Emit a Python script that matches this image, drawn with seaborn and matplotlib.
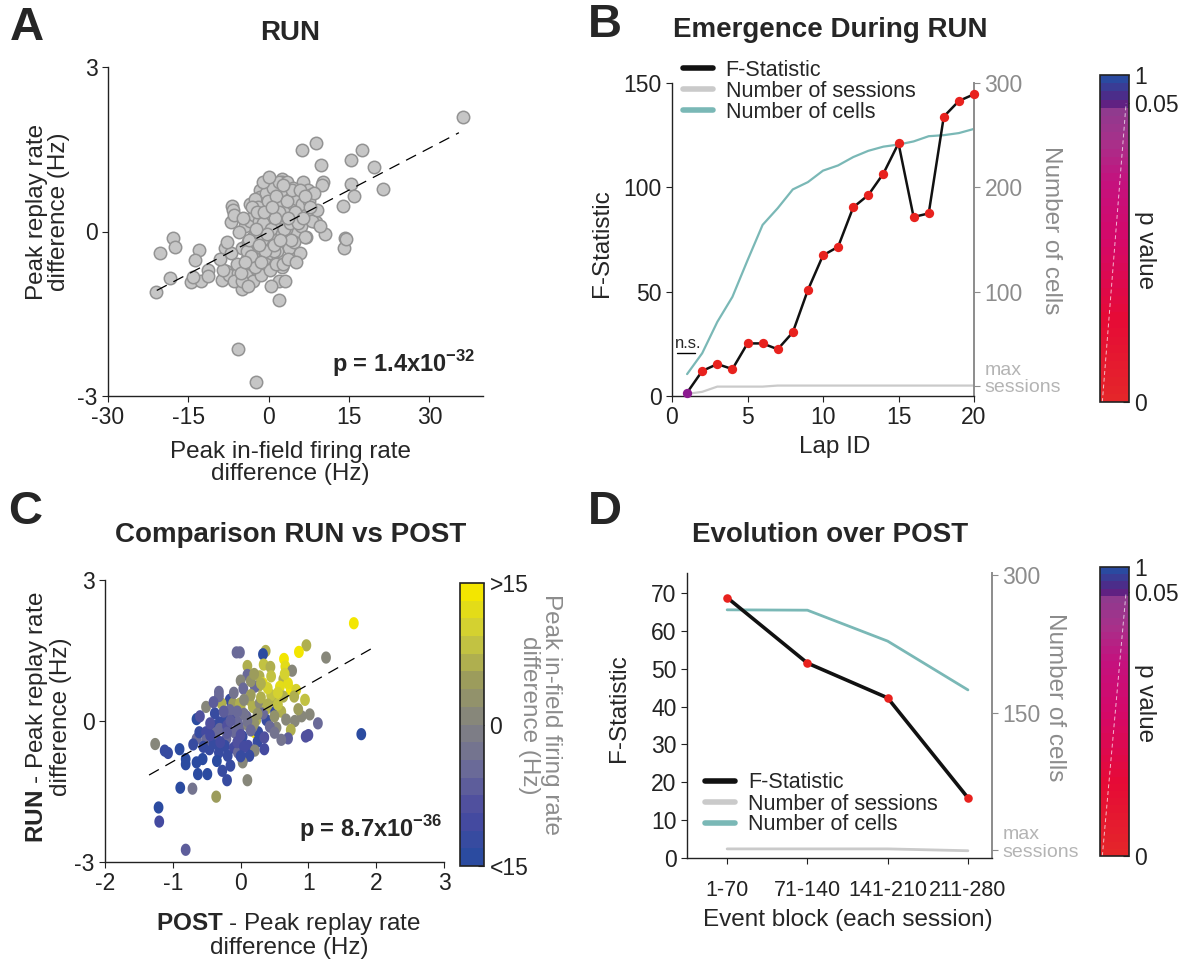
# Figura de 4 paneles: replay vs firing rate (A, C) y evolución del F-Statistic (B, D)
# =============================================================

import numpy as np
import matplotlib
matplotlib.use("Agg")
import matplotlib.pyplot as plt
from matplotlib.colors import LinearSegmentedColormap, Normalize
from matplotlib.cm import ScalarMappable
from matplotlib.lines import Line2D
from matplotlib.path import Path
from matplotlib.markers import MarkerStyle
import seaborn as sns

# -------------------------------------------------------------
# DATOS
# -------------------------------------------------------------

# Panel A: diferencia de firing rate (Hz) vs diferencia de replay rate (Hz)
x_a = [36.2, 8.9, 6.2, 17.5, 15.3, 9.7, 19.7, 21.3, 15.3, 15.9, 13.8, 10.5, 14.3, 14.0,
       14.5, 10.1, 10.0, 6.4, 2.4, 2.5, -1.7, -1.7, 0.6, -6.8, -6.7, -7.0, -17.8, -17.4,
       -20.3, -13.0, -13.7, -18.4, -21.1, -14.5, -12.7, -11.4, -11.3, -14.1, -8.8, -7.9,
       -7.4, -8.2, -4.9, -5.7, -0.75, 2.4, 1.9, 1.9, 4.5, 7.0, 8.9, 7.3, 7.7, -5.7, -2.3,
       -5.0, -4.5, -4.0, -3.8, -3.5, -3.2, -3.0, -2.8, -2.5, -2.2, -2.0, -1.8, -1.5, -1.2,
       -1.0, -0.8, -0.5, -0.3, 0.0, 0.2, 0.5, 0.7, 1.0, 1.2, 1.5, 1.8, 2.0, 2.3, 2.5, 2.8,
       3.0, 3.2, 3.5, 3.8, 4.0, 4.3, 4.6, 5.0, 5.3, 5.6, 6.0, 6.3, 6.7, 7.0, 7.5, 8.0,
       -6.0, -5.5, -6.5, -4.2, -2.9, -1.5, 0.3, 1.4, 2.7, 3.6, -0.5, 0.8, 2.0, 3.5, 4.5,
       -3.5, -2.5, -7.0, -7.8, -5.0, -3.8, 0.5, 1.5, 4.8, 5.8, 3.0, -1.0, 0.0, -6.5, 9.0,
       8.5, 9.5, -8.5, -9.0, 1.0, -1.3, 3.3, 5.5, -2.0, 0.9,
       -4.8, -4.1, -3.6, -3.1, -2.6, -2.1, -1.6, -1.1, -0.6, -0.1, 0.4, 0.9, 1.4, 1.9,
       2.4, 2.9, 3.4, 3.9, 4.4, 4.9, 5.4, 5.9, 6.4, -3.3, -1.9, -0.4, 1.1, 2.6, 4.1, 5.1,
       -2.4, -0.9, 0.6, 2.1, 3.6, -5.2, -4.4, 6.8, 7.8, -1.4]
y_a = [2.09, 1.61, 1.49, 1.48, 1.30, 1.22, 1.17, 0.77, 0.87, 0.64, 0.46, -0.04, -0.12, -0.31,
       -0.13, 0.90, 0.85, 0.90, 0.96, 0.90, 0.75, 0.63, 0.72, 0.46, 0.40, 0.18, -0.12, -0.29,
       -0.40, -0.33, -0.52, -0.85, -1.11, -0.92, -0.91, -0.70, -0.82, -0.83, -0.89, -0.72,
       -0.80, -0.31, -1.05, -0.76, -0.71, -0.65, -0.91, -1.25, -0.38, -0.10, 0.17, 0.75,
       0.67, -2.14, -2.75,
       -0.30, 0.10, -0.50, -0.20, 0.20, -0.60, -0.10, 0.30, -0.40, 0.00, -0.70, 0.20, -0.30,
       0.40, -0.10, -0.50, 0.10, 0.50, -0.20, 0.30, -0.40, 0.10, 0.60, -0.10, 0.30, -0.50,
       0.10, 0.50, -0.20, 0.30, 0.70, 0.00, 0.40, -0.30, 0.60, 0.20, 0.50, 0.00, 0.60, 0.30,
       0.10, 0.50, -0.10, 0.30, 0.55, 0.20,
       -0.60, 0.00, -0.90, -0.80, -0.90, -0.80, -0.70, -0.60, -0.60, -0.50, 0.70, 0.80, 0.90,
       0.90, 0.80, 0.50, 0.60, -0.40, -0.20, -0.90, -1.00, -1.00, -0.35, -0.20, -0.40, -0.90,
       0.90, 1.00, 0.30, 0.40, 0.70, 0.10, -0.70, -0.50, 0.15, -0.15, 0.05, 0.25, 0.45, -0.35,
       0.25, -0.35, -0.15, 0.45, -0.65, 0.35, -0.05, 0.15, -0.35, 0.55, 0.05, -0.25, 0.65,
       0.35, -0.05, 0.05, 0.55, 0.15, 0.75, 0.35, 0.15, 0.75, 0.25, -0.45, -0.25, -0.05,
       0.25, 0.85, -0.15, -0.55, 0.05, 0.35, 0.45, -0.15, 0.25, -0.75, -0.55, 0.65, 0.45,
       -0.55]
ajuste_a = {"pendiente": 0.051, "ordenada": -0.009, "x_min": -20.9, "x_max": 35.5}

# Panel B: emergencia durante RUN
vueltas = list(range(1, 21))
f_b = [1.6, 12.0, 15.3, 12.9, 25.2, 25.2, 22.4, 30.5, 50.8, 67.4,
       71.5, 90.4, 96.3, 106.6, 121.1, 85.8, 87.5, 133.9, 141.4, 144.6]
celulas_b = [21, 41, 71, 95, 130, 164, 180, 198, 205, 216,
             221, 229, 235, 239, 241, 244, 249, 250, 252, 256]
sesiones_b = [2, 4, 9, 9, 9, 9, 10, 10, 10, 10, 10, 10, 10, 10, 10, 10, 10, 10, 10, 10]
significativo_b = [False] + [True] * 19

# Panel C: RUN vs POST, color = diferencia de firing rate
x_c = [1.67, 0.97, 0.86, 1.26, 0.64, 0.66, 0.76, 0.37, 0.33, -0.06, -0.01, 0.10, 0.34, 0.44,
       0.10, 0.00, 0.28, 0.33, 0.63, 0.58, 0.74, 0.82, 0.79, 0.63, 0.49, 0.27, 0.21, 0.04,
       -0.32, -0.51, -0.65, -0.38, -0.16, -0.28, -0.11, -0.01, 0.13, 0.18, 0.28, 0.38, 0.51,
       0.60, 0.67, 0.80, 0.90, 1.02, 1.14, 0.74, 0.70, 0.53, 0.96, 1.00, 1.78, 0.21, 0.26,
       0.25, 0.11, 0.21, 0.13, 0.04, 0.03, 0.10, -0.21, -0.23, -0.10, -0.04, -0.19, -0.32,
       -0.46, -0.56, -0.65, -0.81, -0.81, -0.63, -0.49, -0.27, -0.20, -0.89, -0.71, -0.36,
       -1.26, -1.12, -1.07, -1.21, -1.20, -0.81, -0.65, -0.61, -0.51, -0.41, -0.31, -0.31,
       -0.22, -0.11, -0.04, -0.01, 0.09, 0.11, 0.18, 0.23, 0.38, 0.43, 0.33, -0.32, 0.00,
       -0.16, -0.51, -0.40, -0.37, 0.03, -0.09,
       -0.45, -0.20, 0.05, 0.15, 0.45, 0.55, 0.35, -0.05, 0.20, -0.25, 0.40, 0.15, -0.15,
       0.50, 0.05, 0.30,
       -0.55, -0.35, -0.15, 0.00, 0.10, 0.25, 0.40, 0.55, 0.70, 0.45, 0.20, -0.10, -0.40,
       -0.60, -0.70, -0.90, -0.30, 0.15, 0.35, 0.60, 0.85, 0.95, 0.50, -0.20, 0.05, -0.05,
       0.30, 0.65, -0.45, 0.00]
y_c = [2.08, 1.61, 1.47, 1.35, 1.32, 1.16, 1.07, 1.49, 1.42, 1.46, 1.46, 1.17, 1.20, 1.15,
       0.98, 0.86, 0.95, 0.80, 0.89, 0.73, 0.66, 0.66, 0.52, 0.52, 0.45, 0.75, 0.73, 0.69,
       0.62, 0.30, 0.04, 0.16, 0.45, 0.37, 0.37, 0.37, 0.45, 0.30, 0.38, 0.26, 0.20, 0.20,
       0.03, 0.00, 0.10, 0.14, -0.05, -0.19, -0.37, -0.14, -0.33, -0.30, -0.28, -0.24, -0.24,
       -0.44, -0.53, -0.63, -0.74, -0.81, -0.88, -1.26, -0.38, -0.53, -0.57, -0.67, -0.74,
       -0.67, -0.60, -0.81, -0.88, -0.81, -0.92, -1.13, -1.13, -1.06, -1.26, -1.42, -1.44,
       -1.61, -0.49, -0.63, -0.68, -1.84, -2.14, -2.74, -0.38, -0.24, -0.24, -0.10, -0.03,
       -0.17, 0.06, 0.16, -0.03, -0.14, 0.09, -0.09, -0.12, 0.02, 0.02, -0.12, 0.16, 0.53,
       0.30, 0.23, -0.41, -0.48, -0.26, -0.33, -0.24,
       -0.30, -0.10, 0.15, 0.55, 0.55, 0.35, -0.35, -0.45, -0.05, 0.20, 0.70, 0.85, 0.00,
       -0.25, -0.55, 0.50,
       -0.55, -0.85, -0.95, -0.30, 0.00, 0.15, 0.35, 0.60, 0.80, 0.95, 1.00, 0.60, 0.40,
       0.10, -0.50, -0.60, -0.45, -0.20, -0.60, -0.40, 0.25, 0.45, 0.10, -0.25, 0.45, 0.20,
       0.80, 1.00, -0.05, -0.75]
fr_c = [15, 6, 14, 1, 14, 13, 1, 6, -14, -4, -4, 6, 8, 7, -4, 1, 6, 13, 6, 12, 14, 11, 6, 7,
        6, 6, -4, -5, -4, 1, -14, -13, -12, 6, 5, 6, 6, 7, 1, 6, -12, 6, 1, 1, 1, 1, -5, 6, -6,
        1, -9, -9, -14, 15, -12, -12, -11, 1, -12, -13, 1, 1, -5, -12, -11, -4, -12, -13, -13,
        -14, -14, -14, -14, -14, -14, -12, -13, -14, -3, 5, 1, -13, -13, -14, -11, -6, -4, -12,
        -10, -12, -13, -5, -13, -11, -5, -4, -4, 1, 1, 6, -12, -5, -4, -4, 6, -5, -5, -12, -5,
        -12, -5,
        -10, -8, -3, 4, 8, 9, -8, -9, 2, -6, 10, 3, -7, -3, -10, 7,
        -13, -14, -13, -9, -2, 3, 7, 10, 12, 9, 5, -3, -6, -9, -12, -14, -11, -4, -10, -2,
        4, 8, 2, -7, 1, -4, 6, 11, -8, -12]
ajuste_c = {"pendiente": 0.82, "ordenada": -0.043, "x_min": -1.35, "x_max": 1.93}

# Panel D: evolución durante POST
bloques = ["1-70", "71-140", "141-210", "211-280"]
f_d = [68.8, 51.5, 42.3, 15.9]
celulas_d = [262, 261.6, 228, 175]
sesiones_d = [2.3, 2.3, 2.3, 0.3]

# -------------------------------------------------------------
# CONFIGURACIÓN
# -------------------------------------------------------------

ANCHO, ALTO = 1182, 961

ROJO = "#e8221e"
MORADO = "#8b1a8f"
TEAL = "#7ab8b6"
GRIS_SES = "#cacaca"
GRIS_EJE = "#8c8c8c"
GRIS_MAX = "#b4b4b4"
NEGRO = "#222222"

T_TICK = 16.5
T_ETIQ = 17.5
T_LEY = 15.5
T_TITULO = 20
T_LETRA = 34

CMAP_P = LinearSegmentedColormap.from_list(
    "pvalor",
    [(0.0, "#e4262a"), (0.25, "#e60a36"), (0.5, "#d4086a"), (0.68, "#c4127e"),
     (0.8, "#a8308a"), (0.9, "#8f3a8e"), (0.91, "#6a1a7e"), (0.95, "#4a2e8a"),
     (1.0, "#2a4aa0")],
    N=40,
)
CMAP_FR = LinearSegmentedColormap.from_list(
    "firing",
    ["#2b4ba0", "#4a4aa0", "#6a6a98", "#828282", "#9c9c5c", "#cccc3c", "#f3e600"],
    N=16,
)

sns.set_style("ticks")
plt.rcParams["font.family"] = ["Liberation Sans", "DejaVu Sans"]
plt.rcParams["mathtext.fontset"] = "custom"
plt.rcParams["mathtext.rm"] = "Liberation Sans"
plt.rcParams["mathtext.bf"] = "Liberation Sans:bold"
plt.rcParams["axes.unicode_minus"] = False
plt.rcParams["axes.edgecolor"] = NEGRO
plt.rcParams["axes.linewidth"] = 1.0
plt.rcParams["xtick.color"] = NEGRO
plt.rcParams["ytick.color"] = NEGRO
plt.rcParams["xtick.labelsize"] = T_TICK
plt.rcParams["ytick.labelsize"] = T_TICK
plt.rcParams["xtick.major.size"] = 4
plt.rcParams["ytick.major.size"] = 4


def caja(x0, y0, x1, y1):
    """Rectángulo en píxeles (arriba-izquierda, abajo-derecha) -> fracción de figura"""
    return [x0 / ANCHO, 1 - y1 / ALTO, (x1 - x0) / ANCHO, (y1 - y0) / ALTO]


def texto(fig, x, y, s, **kw):
    """Texto colocado en píxeles de la figura"""
    fig.text(x / ANCHO, 1 - y / ALTO, s, ha=kw.pop("ha", "center"),
             va=kw.pop("va", "center"), **kw)


def limpiar(ax):
    ax.spines["top"].set_visible(False)
    ax.spines["right"].set_visible(False)


def eje_derecho(ax2, ticks, etiquetas, y_max, dy_max):
    """Eje derecho gris con la marca 'max sessions'"""
    ax2.set_yticks(ticks)
    ax2.set_yticklabels(etiquetas)
    for s in ["top", "left", "bottom"]:
        ax2.spines[s].set_visible(False)
    ax2.spines["right"].set_color(GRIS_EJE)
    ax2.spines["right"].set_linewidth(1.4)
    ax2.tick_params(axis="y", colors=GRIS_EJE, labelsize=T_TICK)
    primera = ax2.get_yticklabels()[0]
    primera.set_color(GRIS_MAX)
    primera.set_fontsize(14)
    ax2.annotate("max", xy=(1, y_max), xycoords=("axes fraction", "data"),
                 xytext=(7.5, dy_max), textcoords="offset points", ha="left",
                 va="center", fontsize=14, color=GRIS_MAX)


def barra_p(fig, rect, y_label):
    cax = fig.add_axes(rect)
    cb = fig.colorbar(ScalarMappable(norm=Normalize(0, 1), cmap=CMAP_P), cax=cax,
                      ticks=[0, 0.914, 1])
    cb.ax.set_yticklabels(["0", "0.05", "1"])
    cb.ax.tick_params(direction="in", length=4, labelsize=T_TICK, pad=4)
    cb.outline.set_linewidth(1.2)
    cb.outline.set_edgecolor(NEGRO)
    cax.plot([0.08, 0.9], [0.0, 0.914], color="white", lw=0.7, ls=(0, (4, 3)),
             alpha=0.7, transform=cax.transAxes)
    texto(fig, 1145, y_label, "p value", rotation=270, fontsize=T_ETIQ)


# -------------------------------------------------------------
# FIGURA
# -------------------------------------------------------------

fig = plt.figure(figsize=(ANCHO / 100, ALTO / 100), dpi=100)

# ---------------- Panel A ----------------
ax_a = fig.add_axes(caja(108, 67, 483, 396))
sns.scatterplot(x=x_a, y=y_a, ax=ax_a, s=80, color="#c6c6c6", edgecolor="#939393",
                linewidth=1.1, legend=False, zorder=3)
xs = np.array([ajuste_a["x_min"], ajuste_a["x_max"]])
ax_a.plot(xs, ajuste_a["pendiente"] * xs + ajuste_a["ordenada"], color="black", lw=0.9,
          ls=(0, (9, 6)), zorder=4)
ax_a.set_xlim(-30, 40)
ax_a.set_ylim(-3, 3)
ax_a.set_xticks([-30, -15, 0, 15, 30])
ax_a.set_yticks([-3, 0, 3])
limpiar(ax_a)
ax_a.text(0.98, 0.10, "p = 1.4x10" + r"$^{\mathbf{-32}}$", transform=ax_a.transAxes,
          ha="right", va="center", fontsize=17, fontweight="bold")
texto(fig, 290, 33, "RUN", fontsize=T_TITULO, fontweight="bold")
texto(fig, 27, 28, "A", fontsize=T_LETRA, fontweight="bold")
texto(fig, 290, 463, "Peak in-field firing rate\ndifference (Hz)", fontsize=T_ETIQ,
      linespacing=1.0)
texto(fig, 48, 212, "Peak replay rate\ndifference (Hz)", fontsize=T_ETIQ, rotation=90,
      linespacing=1.0)

# ---------------- Panel B ----------------
ax_b = fig.add_axes(caja(672, 83, 974, 396))
ax_b2 = ax_b.twinx()
ax_b.set_zorder(ax_b2.get_zorder() + 1)
ax_b.patch.set_visible(False)

sns.lineplot(x=vueltas, y=celulas_b, ax=ax_b2, color=TEAL, lw=1.6)
sns.lineplot(x=vueltas, y=sesiones_b, ax=ax_b2, color=GRIS_SES, lw=1.6)
sns.lineplot(x=vueltas, y=f_b, ax=ax_b, color="#111111", lw=1.8)
sig = np.array(significativo_b)
sns.scatterplot(x=np.array(vueltas)[sig], y=np.array(f_b)[sig], ax=ax_b, color=ROJO,
                s=45, linewidth=0, legend=False, zorder=5, clip_on=False)
sns.scatterplot(x=np.array(vueltas)[~sig], y=np.array(f_b)[~sig], ax=ax_b, color=MORADO,
                s=45, linewidth=0, legend=False, zorder=5, clip_on=False)

ax_b.set_xlim(0, 20)
ax_b.set_ylim(0, 150)
ax_b.set_xticks([0, 5, 10, 15, 20])
ax_b.set_yticks([0, 50, 100, 150])
limpiar(ax_b)

ax_b2.set_ylim(0, 300)
eje_derecho(ax_b2, [10, 100, 200, 300], ["sessions", "100", "200", "300"], 10, 11)

ax_b.text(1.09, 21.8, "n.s.", fontsize=12, ha="center", va="bottom")
ax_b.plot([0.33, 1.52], [20.6, 20.6], color="black", lw=1)

leyenda = [Line2D([0], [0], color="#111111", lw=4, label="F-Statistic"),
           Line2D([0], [0], color=GRIS_SES, lw=4, label="Number of sessions"),
           Line2D([0], [0], color=TEAL, lw=4, label="Number of cells")]
ax_b.legend(handles=leyenda, loc="upper left", bbox_to_anchor=(0.035, 1.075), frameon=False,
            fontsize=T_LEY, labelspacing=0, handlelength=1.4, handletextpad=0.6,
            borderpad=0, borderaxespad=0)

texto(fig, 830, 30, "Emergence During RUN", fontsize=T_TITULO, fontweight="bold")
texto(fig, 605, 25, "B", fontsize=T_LETRA, fontweight="bold")
texto(fig, 602, 243, "F-Statistic", fontsize=T_ETIQ, rotation=90)
texto(fig, 835, 447, "Lap ID", fontsize=T_ETIQ)
texto(fig, 1051, 230, "Number of cells", fontsize=T_ETIQ, rotation=270, color=GRIS_EJE)

barra_p(fig, caja(1100, 75, 1129, 402), 250)

# ---------------- Panel C ----------------
ax_c = fig.add_axes(caja(105, 580, 444, 862))
t = np.linspace(0, 2 * np.pi, 41)
elipse = MarkerStyle(Path(np.column_stack([0.8 * np.cos(t), np.sin(t)])))
sns.scatterplot(x=x_c, y=y_c, hue=fr_c, palette=CMAP_FR, hue_norm=(-15, 15), ax=ax_c,
                marker=elipse, s=78, linewidth=0, legend=False, zorder=3)
xs = np.array([ajuste_c["x_min"], ajuste_c["x_max"]])
ax_c.plot(xs, ajuste_c["pendiente"] * xs + ajuste_c["ordenada"], color="black", lw=0.9,
          ls=(0, (9, 6)), zorder=4)
ax_c.set_xlim(-2, 3)
ax_c.set_ylim(-3, 3)
ax_c.set_xticks([-2, -1, 0, 1, 2, 3])
ax_c.set_yticks([-3, 0, 3])
limpiar(ax_c)
ax_c.text(0.995, 0.12, "p = 8.7x10" + r"$^{\mathbf{-36}}$", transform=ax_c.transAxes,
          ha="right", va="center", fontsize=17, fontweight="bold")

cax_c = fig.add_axes(caja(460, 583, 484, 866))
cb_c = fig.colorbar(ScalarMappable(norm=Normalize(-15, 15), cmap=CMAP_FR), cax=cax_c,
                    ticks=[-15, 0, 15])
cb_c.ax.set_yticklabels(["<15", "0", ">15"])
cb_c.ax.tick_params(direction="in", length=4, labelsize=T_TICK, pad=4)
cb_c.outline.set_linewidth(1.2)
cb_c.outline.set_edgecolor(NEGRO)

texto(fig, 291, 535, "Comparison RUN vs POST", fontsize=T_TITULO, fontweight="bold")
texto(fig, 25, 512, "C", fontsize=T_LETRA, fontweight="bold")
texto(fig, 289, 935, r"$\mathbf{POST}$ - Peak replay rate" + "\ndifference (Hz)",
      fontsize=T_ETIQ, linespacing=1.0)
texto(fig, 48, 717, r"$\mathbf{RUN}$ - Peak replay rate" + "\ndifference (Hz)",
      fontsize=T_ETIQ, rotation=90, linespacing=1.0)
texto(fig, 540, 715, "Peak in-field firing rate\ndifference (Hz)", fontsize=T_ETIQ,
      rotation=270, color=GRIS_EJE, linespacing=1.0)

# ---------------- Panel D ----------------
ax_d = fig.add_axes(caja(687, 573, 992, 858))
ax_d2 = ax_d.twinx()
ax_d.set_zorder(ax_d2.get_zorder() + 1)
ax_d.patch.set_visible(False)
pos_d = np.arange(len(bloques))

sns.lineplot(x=pos_d, y=celulas_d, ax=ax_d2, color=TEAL, lw=2.0)
sns.lineplot(x=pos_d, y=sesiones_d, ax=ax_d2, color=GRIS_SES, lw=2.0)
sns.lineplot(x=pos_d, y=f_d, ax=ax_d, color="#111111", lw=2.6)
sns.scatterplot(x=pos_d, y=f_d, ax=ax_d, color=ROJO, s=38, linewidth=0, legend=False,
                zorder=5, clip_on=False)

ax_d.set_xlim(-0.5, 3.3)
ax_d.set_ylim(0, 75.3)
ax_d.set_xticks(pos_d)
ax_d.set_xticklabels(bloques)
ax_d.set_yticks(range(0, 71, 10))
ax_d.tick_params(axis="x", pad=12, labelsize=15.5)
limpiar(ax_d)

ax_d2.set_ylim(-7.6, 302)
eje_derecho(ax_d2, [1, 150, 300], ["sessions", "150", "300"], 1, 11)

ax_d.legend(handles=leyenda, loc="upper left", bbox_to_anchor=(0.06, 0.30), frameon=False,
            fontsize=T_LEY, labelspacing=0, handlelength=1.4, handletextpad=0.6,
            borderpad=0, borderaxespad=0)

texto(fig, 830, 535, "Evolution over POST", fontsize=T_TITULO, fontweight="bold")
texto(fig, 605, 512, "D", fontsize=T_LETRA, fontweight="bold")
texto(fig, 619, 708, "F-Statistic", fontsize=T_ETIQ, rotation=90)
texto(fig, 848, 920, "Event block (each session)", fontsize=T_ETIQ)
texto(fig, 1055, 697, "Number of cells", fontsize=T_ETIQ, rotation=270, color=GRIS_EJE)

barra_p(fig, caja(1100, 567, 1129, 856), 703)

fig.savefig("out.png", dpi=100, facecolor="white")
print("Guardada: out.png")
